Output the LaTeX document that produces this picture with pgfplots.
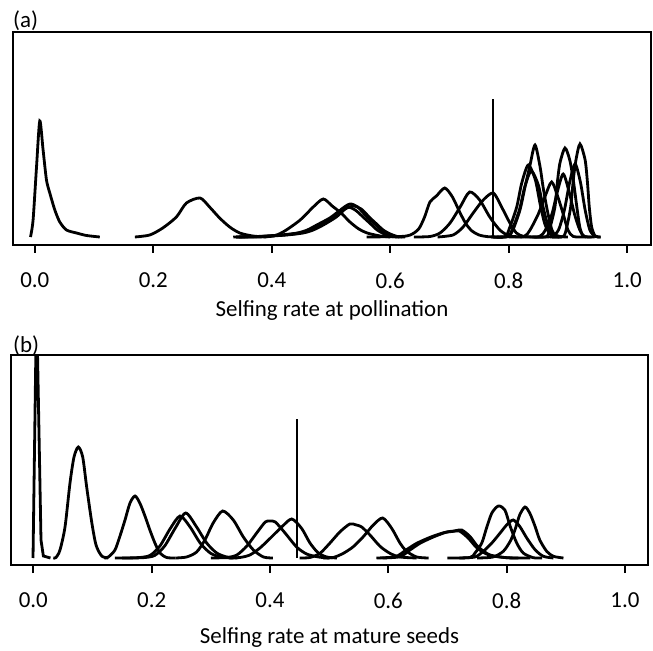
\documentclass[border=0pt]{standalone}
\usepackage{fontspec}
\setmainfont{Carlito}
\usepackage{pgfplots}
\pgfplotsset{compat=1.18}
\begin{document}
\fontsize{23}{27}\selectfont
\begin{tikzpicture}
\useasboundingbox (0bp,0bp) rectangle (653bp,651bp);
\pgfplotsset{
  dens/.style={black, line width=2.8bp, smooth, tension=0.45, no marks},
  vline/.style={black, line width=1.9bp, no marks},
  panel/.style={scale only axis, anchor=south west,
    axis line style={line width=2.2bp},
    xtick={0,0.2,0.4,0.6,0.8,1},
    xticklabels={0.0,0.2,0.4,0.6,0.8,1.0},
    ytick=\empty, xtick pos=left, tick align=outside,
    major tick length=8bp,
    x tick style={line width=2bp, black},
    tick label style={font=\fontsize{23}{27}\selectfont},
    xticklabel style={yshift=-12bp},
    label style={font=\fontsize{23}{27}\selectfont},
    clip=true}
}
% ---------------- panel (a)
\begin{axis}[panel, at={(13bp,406bp)}, width=638bp, height=213bp,
  xmin=-0.0368, xmax=1.0402, ymin=-8, ymax=205,
  xlabel={Selfing rate at pollination},
  xlabel style={at={(axis description cs:0.5,0)}, anchor=base, yshift=-72bp}]
\addplot[dens] coordinates {(-0.0073,0) (-0.0029,17) (0.0029,70) (0.0084,116) (0.0140,87) (0.0197,57) (0.0253,44) (0.0338,27) (0.0422,15) (0.0535,7) (0.0704,4) (0.0873,1.5) (0.1097,0)};
\addplot[dens] coordinates {(0.169,0) (0.194,2) (0.216,9) (0.239,20) (0.256,34) (0.279,39) (0.295,30) (0.312,19) (0.329,10) (0.346,4) (0.368,1) (0.391,0)};
\addplot[dens] coordinates {(0.340,0) (0.397,0.5) (0.419,5) (0.448,17) (0.470,30) (0.487,38) (0.502,31) (0.517,24) (0.532,15) (0.547,8) (0.561,4) (0.583,1) (0.600,0)};
\addplot[dens] coordinates {(0.340,0) (0.380,0.5) (0.420,2) (0.448,4) (0.465,7) (0.481,12) (0.503,20) (0.518,28) (0.532,33) (0.545,30) (0.561,20) (0.572,14) (0.583,8) (0.595,3) (0.607,0.5) (0.620,0)};
\addplot[dens] coordinates {(0.345,0) (0.385,0.5) (0.425,2) (0.453,4) (0.470,7) (0.487,12) (0.509,20) (0.524,28) (0.538,31) (0.551,28) (0.566,19) (0.577,13) (0.588,7) (0.600,3) (0.612,0.5) (0.625,0)};
\addplot[dens] coordinates {(0.335,0) (0.375,0.5) (0.415,2) (0.443,4) (0.460,7) (0.476,12) (0.498,19) (0.514,26) (0.528,30) (0.541,27) (0.556,19) (0.567,13) (0.578,7) (0.590,3) (0.602,0.5) (0.615,0)};
\addplot[dens] coordinates {(0.560,0) (0.617,0.5) (0.634,2) (0.648,8) (0.658,20) (0.667,35) (0.678,41) (0.692,49) (0.705,40) (0.718,24) (0.728,13) (0.738,6) (0.750,2) (0.765,0.3) (0.790,0)};
\addplot[dens] coordinates {(0.640,0) (0.667,0.5) (0.684,4) (0.701,14) (0.718,30) (0.734,45) (0.751,37) (0.768,20) (0.785,7) (0.802,1) (0.830,0)};
\addplot[dens] coordinates {(0.680,0) (0.706,2) (0.723,10) (0.740,24) (0.757,37) (0.774,44) (0.788,30) (0.802,14) (0.813,4) (0.826,0.5) (0.850,0)};
\addplot[dens] coordinates {(0.780,0) (0.7985,0.5) (0.807,7) (0.819,27) (0.8275,50) (0.836,72) (0.8444,92) (0.853,70) (0.858,50) (0.865,27) (0.873,7) (0.881,1) (0.900,0)};
\addplot[dens] coordinates {(0.770,0) (0.794,0.5) (0.802,10) (0.8135,30) (0.822,54) (0.833,72) (0.845,57) (0.853,33) (0.861,13) (0.870,3) (0.885,0)};
\addplot[dens] coordinates {(0.775,0) (0.799,0.5) (0.807,9) (0.8185,28) (0.827,50) (0.838,66) (0.850,52) (0.858,30) (0.866,12) (0.875,3) (0.890,0)};
\addplot[dens] coordinates {(0.800,0) (0.826,0.5) (0.836,7) (0.850,23) (0.861,40) (0.8725,55) (0.883,40) (0.892,23) (0.900,7) (0.909,0.5) (0.930,0)};
\addplot[dens] coordinates {(0.840,0) (0.864,0.5) (0.870,10) (0.878,30) (0.882,54) (0.8865,74) (0.895,89) (0.903,77) (0.909,57) (0.915,30) (0.920,10) (0.926,1) (0.940,0)};
\addplot[dens] coordinates {(0.830,0) (0.852,0.5) (0.862,7) (0.873,23) (0.882,45) (0.892,63) (0.902,45) (0.911,23) (0.920,7) (0.928,0.5) (0.945,0)};
\addplot[dens] coordinates {(0.870,0) (0.892,0.5) (0.898,10) (0.9046,30) (0.909,57) (0.9135,77) (0.9203,93) (0.929,77) (0.933,54) (0.936,30) (0.940,10) (0.946,1) (0.955,0)};
\addplot[dens] coordinates {(0.850,0) (0.872,0.5) (0.884,7) (0.894,27) (0.903,55) (0.912,73) (0.921,55) (0.929,27) (0.937,7) (0.946,0.5) (0.955,0)};
\addplot[vline] coordinates {(0.7735,0) (0.7735,138)};
\end{axis}
% ---------------- panel (b)
\begin{axis}[panel, at={(11bp,86bp)}, width=637bp, height=210bp,
  xmin=-0.0377, xmax=1.0389, ymin=-7, ymax=203,
  xlabel={Selfing rate at mature seeds},
  xlabel style={at={(axis description cs:0.5,0)}, anchor=base, yshift=-78bp}]
\addplot[black, line width=2.8bp, no marks] coordinates {(-0.0005,0) (0.0055,256) (0.0130,18) (0.0170,2) (0.029,0)};
\addplot[dens] coordinates {(0.0338,0) (0.0384,0.5) (0.0451,8) (0.0536,31) (0.062,75) (0.0688,101) (0.0761,111) (0.0835,101) (0.0902,71) (0.0987,36) (0.106,13) (0.1156,2) (0.1268,0)};
\addplot[dens] coordinates {(0.120,0) (0.1268,1) (0.138,8) (0.1465,22) (0.155,38) (0.1634,55) (0.1719,62) (0.180,55) (0.1887,42) (0.197,28) (0.2055,15) (0.214,5) (0.2254,0.5) (0.240,0)};
\addplot[dens] coordinates {(0.138,0) (0.175,0.3) (0.197,2.5) (0.214,12) (0.231,29) (0.248,42) (0.265,31) (0.282,15) (0.299,5) (0.316,1) (0.337,0)};
\addplot[dens] coordinates {(0.150,0) (0.185,0.3) (0.205,2.5) (0.222,12) (0.240,30) (0.2576,45) (0.276,31) (0.293,15) (0.310,5) (0.327,1) (0.345,0)};
\addplot[dens] coordinates {(0.240,0) (0.259,1) (0.276,6) (0.290,18) (0.304,35) (0.320,47) (0.338,38) (0.355,21) (0.372,8) (0.389,1) (0.405,0)};
\addplot[dens] coordinates {(0.300,0) (0.327,0.5) (0.344,3) (0.361,12) (0.3775,25) (0.392,36) (0.400,37) (0.409,36) (0.4255,25) (0.445,11) (0.462,4) (0.482,1) (0.500,0)};
\addplot[dens] coordinates {(0.330,0) (0.349,0.5) (0.366,3) (0.383,10) (0.400,19.5) (0.4198,31) (0.4367,39) (0.4536,29.5) (0.4676,15) (0.4817,5) (0.496,1) (0.513,0)};
\addplot[dens] coordinates {(0.450,0) (0.4676,0.5) (0.4845,4.7) (0.501,14.7) (0.518,26) (0.535,34) (0.546,33) (0.555,31) (0.569,23) (0.586,11.7) (0.6027,4.7) (0.6197,1) (0.648,0)};
\addplot[dens] coordinates {(0.490,0) (0.507,0.5) (0.524,4.7) (0.5408,11.3) (0.5577,21.3) (0.5746,33) (0.5905,40) (0.6057,29.7) (0.6197,15) (0.631,6.7) (0.648,1) (0.668,0)};
\addplot[dens] coordinates {(0.580,0) (0.612,1.3) (0.630,8) (0.648,14.7) (0.672,21) (0.695,25.5) (0.708,26.5) (0.720,27) (0.735,20) (0.750,10) (0.770,3) (0.800,0.3) (0.840,0)};
\addplot[dens] coordinates {(0.590,0) (0.6197,1.3) (0.6366,8) (0.6535,14.7) (0.676,21) (0.6987,26) (0.712,27) (0.724,28) (0.738,21.5) (0.752,11) (0.772,3) (0.800,0.3) (0.820,0)};
\addplot[dens] coordinates {(0.700,0) (0.738,0.5) (0.7465,5) (0.758,15) (0.766,30) (0.775,45) (0.786,52) (0.797,48) (0.806,31.7) (0.817,15) (0.828,5) (0.845,0.3) (0.860,0)};
\addplot[dens] coordinates {(0.720,0) (0.7465,1) (0.7605,6.7) (0.775,15) (0.789,25) (0.800,33) (0.811,38) (0.822,31.7) (0.834,20) (0.848,8.3) (0.862,1.7) (0.879,0)};
\addplot[dens] coordinates {(0.750,0) (0.777,1) (0.7943,6.7) (0.806,16.7) (0.814,28) (0.822,43) (0.831,51) (0.839,45) (0.848,31.7) (0.856,18) (0.8677,6.7) (0.879,1.7) (0.896,0)};
\addplot[vline] coordinates {(0.4462,0) (0.4462,139)};
\end{axis}
\node[anchor=west, inner sep=0] at (13bp,630bp) {(a)};
\node[anchor=west, inner sep=0] at (13bp,305bp) {(b)};
\end{tikzpicture}
\end{document}
